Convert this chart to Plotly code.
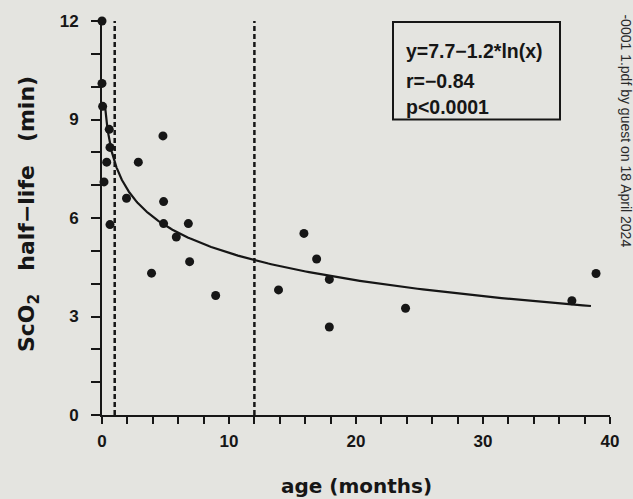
import numpy as np
import plotly.graph_objects as go

# ---- data ----
age_months = [0.0, 0.0, 0.05, 0.57, 0.63, 0.37, 0.16, 0.63, 1.93, 2.86,
              4.8, 4.85, 4.85, 6.8, 5.85, 3.9, 6.9, 8.95, 13.9, 15.9,
              16.9, 17.9, 17.9, 23.9, 37.0, 38.9]
half_life_min = [12.0, 10.1, 9.4, 8.7, 8.15, 7.7, 7.1, 5.8, 6.6, 7.7,
                 8.5, 6.5, 5.83, 5.83, 5.42, 4.32, 4.67, 3.64, 3.81, 5.53,
                 4.75, 4.13, 2.68, 3.25, 3.48, 4.31]

# fitted curve stated on the chart: y = 7.7 - 1.2*ln(x)
fit_intercept = 7.7
fit_slope = 1.2
fit_x_start = 0.25
fit_x_end = 38.5

group_bounds = [1, 12]          # dashed vertical lines (months)

x_tick_vals = [0, 10, 20, 30, 40]
y_tick_vals = [0, 3, 6, 9, 12]

stats_lines = ["y=7.7\u22121.2*ln(x)", "r=\u22120.84", "p<0.0001"]
watermark = "-0001 1.pdf by guest on 18 April 2024"

# ---- figure ----
BG = "#e4e4e0"
INK = "#161616"
FONT = "Liberation Sans, Arial, Helvetica, sans-serif"
TFONT = "DejaVu Sans, Liberation Sans, sans-serif"
SP = "\u00a0\u00a0\u00a0"

fit_x = np.geomspace(fit_x_start, fit_x_end, 300)
fit_y = fit_intercept - fit_slope * np.log(fit_x)

fig = go.Figure()
fig.add_trace(go.Scatter(x=fit_x, y=fit_y, mode="lines",
                         line=dict(color=INK, width=2.2), hoverinfo="skip",
                         showlegend=False))
fig.add_trace(go.Scatter(x=age_months, y=half_life_min, mode="markers",
                         marker=dict(color=INK, size=9), cliponaxis=False,
                         showlegend=False))

for gb in group_bounds:
    fig.add_shape(type="line", x0=gb, x1=gb, y0=0, y1=12.12, xref="x", yref="y",
                  line=dict(color=INK, width=2.5, dash="5px,3px"), layer="below")

# stats box
fig.add_shape(type="rect", xref="paper", yref="paper",
              x0=(393 - 102) / 508, x1=(560 - 102) / 508,
              y0=(415 - 118) / 396, y1=(415 - 20) / 396,
              line=dict(color=INK, width=2), fillcolor="rgba(0,0,0,0)")
for txt, ypx in zip(stats_lines, [49, 79, 105]):
    fig.add_annotation(text=txt, xref="paper", yref="paper",
                       x=(404 - 102) / 508, y=(415 - ypx) / 396,
                       xanchor="left", yanchor="middle", showarrow=False,
                       font=dict(family=FONT, size=19.5, color=INK, weight="bold"))

# axis titles
fig.add_annotation(text="age (months)", xref="paper", yref="paper",
                   x=(356 - 102) / 508, y=(415 - 486) / 396,
                   xanchor="center", yanchor="middle", showarrow=False,
                   font=dict(family=TFONT, size=20, color=INK, weight="bold"))
fig.add_annotation(text="ScO<sub>2</sub>" + SP + "half\u2212life" + SP + "(min)",
                   xref="paper", yref="paper",
                   x=(28 - 102) / 508, y=(415 - 213) / 396, textangle=-90,
                   xanchor="center", yanchor="middle", showarrow=False,
                   font=dict(family=TFONT, size=22, color=INK, weight="bold"))

# watermark on the right edge
fig.add_annotation(text=watermark, xref="paper", yref="paper",
                   x=(626 - 102) / 508, y=(415 - 129) / 396, textangle=90,
                   xanchor="center", yanchor="middle", showarrow=False,
                   font=dict(family=FONT, size=14, color="#2a2a2a"))

axis_common = dict(showgrid=False, zeroline=False, showline=True, linewidth=2,
                   linecolor=INK, ticks="outside", tickwidth=2, tickcolor=INK,
                   tickfont=dict(family=FONT, size=17, color=INK, weight="bold"))

fig.update_xaxes(range=[0, 40], tickvals=x_tick_vals, ticklen=7,
                 ticklabelstandoff=3,
                 minor=dict(dtick=2, ticks="outside", ticklen=7, tickwidth=2,
                            tickcolor=INK, showgrid=False),
                 **axis_common)
fig.update_yaxes(range=[0, 12], tickvals=y_tick_vals, ticklen=9,
                 ticklabelstandoff=9,
                 minor=dict(dtick=1, ticks="outside", ticklen=9, tickwidth=2,
                            tickcolor=INK, showgrid=False),
                 **axis_common)

fig.update_layout(width=633, height=499, autosize=False,
                  margin=dict(l=102, r=23, t=19, b=84),
                  paper_bgcolor=BG, plot_bgcolor=BG,
                  font=dict(family=FONT, color=INK))

fig.write_html("out.html",
               config={"displayModeBar": False},
               post_script="document.body.style.margin='0';"
                           "document.body.style.overflow='hidden';"
                           "document.body.style.background='" + BG + "';")
